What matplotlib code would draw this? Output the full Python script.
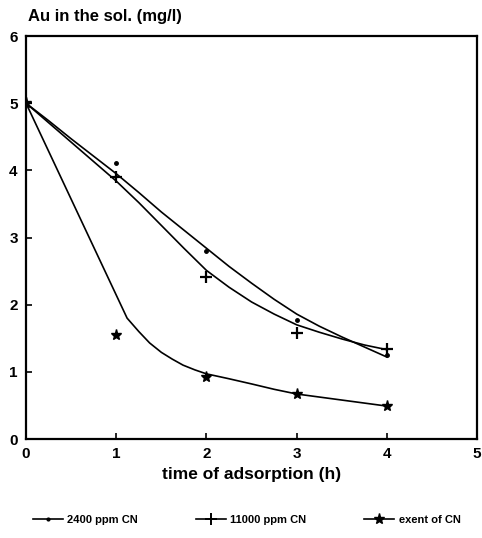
import matplotlib
matplotlib.use("Agg")
import matplotlib.pyplot as plt
from matplotlib.lines import Line2D

# measured concentrations at each sampling hour
hours = [0, 1, 2, 3, 4]
cn_2400 = [5.0, 4.11, 2.80, 1.77, 1.25]
cn_11000 = [5.0, 3.90, 2.41, 1.58, 1.34]
cn_excess = [5.0, 1.55, 0.92, 0.67, 0.49]

# fitted curves, read at quarter-hour steps
fit_hours = [0, 0.25, 0.5, 0.75, 1, 1.25, 1.5, 1.75, 2,
             2.25, 2.5, 2.75, 3, 3.25, 3.5, 3.75, 4]
fit_2400 = [5.0, 4.74, 4.47, 4.21, 3.95, 3.67, 3.38, 3.11, 2.84,
            2.57, 2.32, 2.08, 1.86, 1.68, 1.52, 1.37, 1.22]
fit_11000 = [5.0, 4.71, 4.42, 4.13, 3.84, 3.52, 3.18, 2.84, 2.51,
             2.26, 2.04, 1.86, 1.70, 1.59, 1.49, 1.40, 1.33]
fit_excess_hours = [0, 1.12, 1.25, 1.37, 1.5, 1.62, 1.74, 1.87, 2, 2.24, 2.5, 2.75, 3, 3.5, 4]
fit_excess = [5.0, 1.80, 1.60, 1.43, 1.29, 1.19, 1.10, 1.03, 0.97, 0.90, 0.82, 0.74, 0.67, 0.58, 0.49]

labels = ["2400 ppm CN", "11000 ppm CN", "exent of CN"]

plt.rcParams["font.family"] = ["Liberation Sans", "DejaVu Sans"]
plt.rcParams["font.weight"] = "bold"

fig = plt.figure(figsize=(4.82, 5.38), dpi=100)
ax = fig.add_axes([0.054, 0.184, 0.936, 0.749])

ax.plot(fit_hours, fit_2400, color="black", lw=1.2)
ax.plot(fit_hours, fit_11000, color="black", lw=1.2)
ax.plot(fit_excess_hours, fit_excess, color="black", lw=1.2)

ax.plot(hours, cn_2400, ls="none", marker="o", ms=2.5, color="black")
ax.plot(hours, cn_11000, ls="none", marker="+", ms=8, mew=1.6, color="black")
ax.plot(hours, cn_excess, ls="none", marker="*", ms=8, color="black")

ax.set_xlim(0, 5)
ax.set_ylim(0, 6)
ax.set_xticks(range(6))
ax.set_yticks(range(7))
ax.tick_params(direction="in", length=4, width=1.2, labelsize=11, pad=6)
for lab in ax.get_xticklabels() + ax.get_yticklabels():
    lab.set_fontweight("bold")
for spine in ax.spines.values():
    spine.set_linewidth(1.6)

ax.set_xlabel("time of adsorption (h)", fontsize=12.5, fontweight="bold", labelpad=4)
fig.text(0.058, 0.955, "Au in the sol. (mg/l)", fontsize=12, fontweight="bold",
         ha="left", va="bottom")

handles = [
    Line2D([], [], color="black", lw=1.2, marker="o", ms=2),
    Line2D([], [], color="black", lw=1.2, marker="+", ms=9, mew=1.4),
    Line2D([], [], color="black", lw=1.2, marker="*", ms=8),
]
fig.legend(handles, labels, loc="lower center", bbox_to_anchor=(0.512, 0.005), ncol=3,
           frameon=False, handlelength=2.7, columnspacing=5.2,
           handletextpad=0.4, prop={"weight": "bold", "size": 8})

fig.savefig("out.png", dpi=100, facecolor="white")
